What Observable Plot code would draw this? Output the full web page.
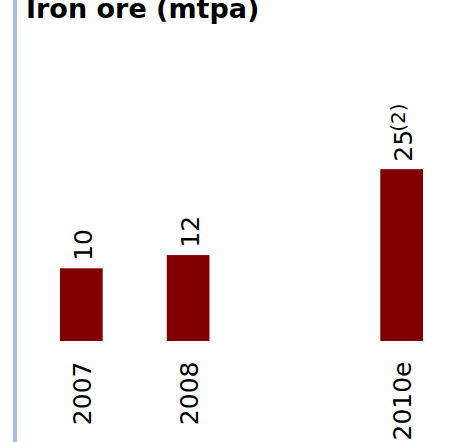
<!DOCTYPE html>
<html>
<head>
<meta charset="utf-8">
<script src="https://cdn.jsdelivr.net/npm/d3@7"></script>
<script src="https://cdn.jsdelivr.net/npm/@observablehq/plot@0.6"></script>
<style>
  html, body { margin: 0; padding: 0; background: #fff; }
  #wrap { position: relative; width: 463px; height: 442px; overflow: hidden; }
  #bar { position: absolute; left: 13px; top: 0; width: 4px; height: 442px; background: #a7bde6; }
  #title { position: absolute; left: 26px; top: -5.5px; font: bold 27px "DejaVu Sans", sans-serif; line-height: 27px; white-space: nowrap; color: #000; }
  #chart { position: absolute; left: 0; top: 0; }
</style>
</head>
<body>
<div id="wrap">
  <div id="bar"></div>
  <div id="title">Iron ore (mtpa)</div>
  <div id="chart"></div>
</div>
<script>
const title = "Iron ore (mtpa)";
const slots = ["2007", "2008", "2009", "2010e"];
const years = ["2007", "2008", "2010e"];
const values = [10, 12, 25];
const notes = ["", "", "(2)"];
const yBase = -1;

const data = years.map((y, i) => ({year: y, value: values[i], note: notes[i]}));

const plot = Plot.plot({
  width: 463,
  height: 442,
  marginLeft: 60,
  marginRight: 40,
  marginTop: 70,
  marginBottom: 101,
  style: {fontFamily: "DejaVu Sans, sans-serif", fontSize: "25px", background: "transparent", color: "#000"},
  x: {domain: slots, paddingInner: 0.6, paddingOuter: 0, round: false, axis: null},
  y: {domain: [yBase, 40], axis: null},
  marks: [
    Plot.rectY(data, {x: "year", y1: () => yBase, y2: "value", fill: "#800000"}),
    Plot.text(data, {x: "year", y: "value", text: d => String(d.value), rotate: -90, textAnchor: "start", lineAnchor: "middle", dy: -8, dx: 2, fill: "#000", ariaDescription: "value-labels"}),
    Plot.text(data, {x: "year", frameAnchor: "bottom", text: "year", rotate: -90, textAnchor: "end", lineAnchor: "middle", dy: 20, dx: 1, fill: "#000"})
  ]
});
document.getElementById("chart").appendChild(plot);

d3.select(plot).selectAll('g[aria-description="value-labels"] text').each(function(_, i) {
  const n = data[i] && data[i].note;
  if (n) {
    d3.select(this).append("tspan").attr("font-size", "20px").attr("dx", "-2").attr("dy", "-0.35em").text(n);
  }
});
</script>
</body>
</html>
